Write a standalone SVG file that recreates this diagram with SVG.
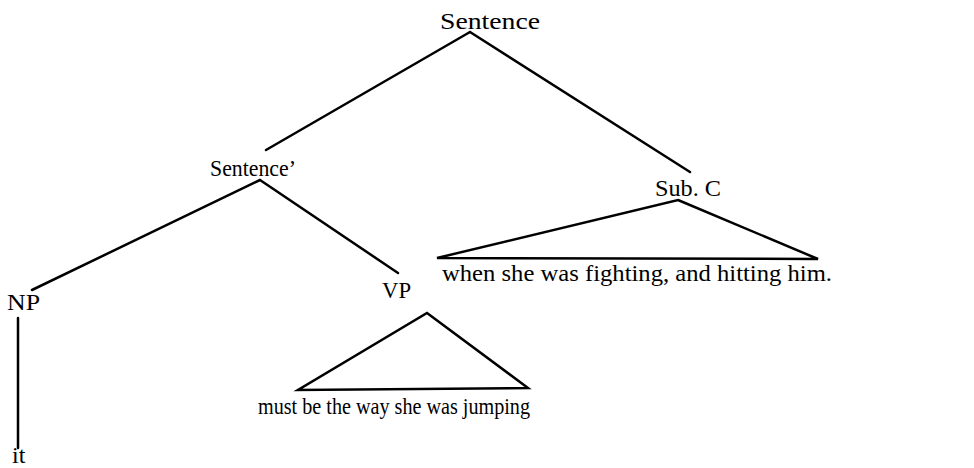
<svg xmlns="http://www.w3.org/2000/svg" width="974" height="468" viewBox="0 0 974 468">
<style>
text{font-family:"Liberation Serif","Times New Roman",serif;font-size:24px;fill:#000}
line,polygon{stroke:#000;stroke-width:2.5;fill:none;stroke-linecap:round;stroke-linejoin:miter}
</style>
<rect width="974" height="468" fill="#fff"/>
<g id="connectors">
<line x1="470" y1="32" x2="266" y2="150"/>
<line x1="470" y1="32" x2="690" y2="172"/>
<line x1="260" y1="180" x2="32" y2="290"/>
<line x1="260" y1="180" x2="398" y2="273"/>
<line x1="18" y1="318" x2="18" y2="448"/>
</g>
<g id="sentence"><text x="440" y="29" textLength="100" lengthAdjust="spacingAndGlyphs">Sentence</text></g>
<g id="sentence-prime"><text x="210" y="176" textLength="86" lengthAdjust="spacingAndGlyphs">Sentence’</text></g>
<g id="subc"><text x="655" y="196" textLength="66" lengthAdjust="spacingAndGlyphs">Sub. C</text>
<polygon points="678,200 818,259 437,258"/>
<text x="442" y="281" textLength="390" lengthAdjust="spacingAndGlyphs">when she was fighting, and hitting him.</text></g>
<g id="vp"><text x="382" y="298" textLength="29" lengthAdjust="spacingAndGlyphs">VP</text>
<polygon points="427,313 528,388 298,390"/>
<text x="258" y="414" textLength="272" lengthAdjust="spacingAndGlyphs">must be the way she was jumping</text></g>
<g id="np"><text x="7" y="310" textLength="33" lengthAdjust="spacingAndGlyphs">NP</text></g>
<g id="it"><text x="12" y="463" font-size="22">it</text></g>
</svg>
